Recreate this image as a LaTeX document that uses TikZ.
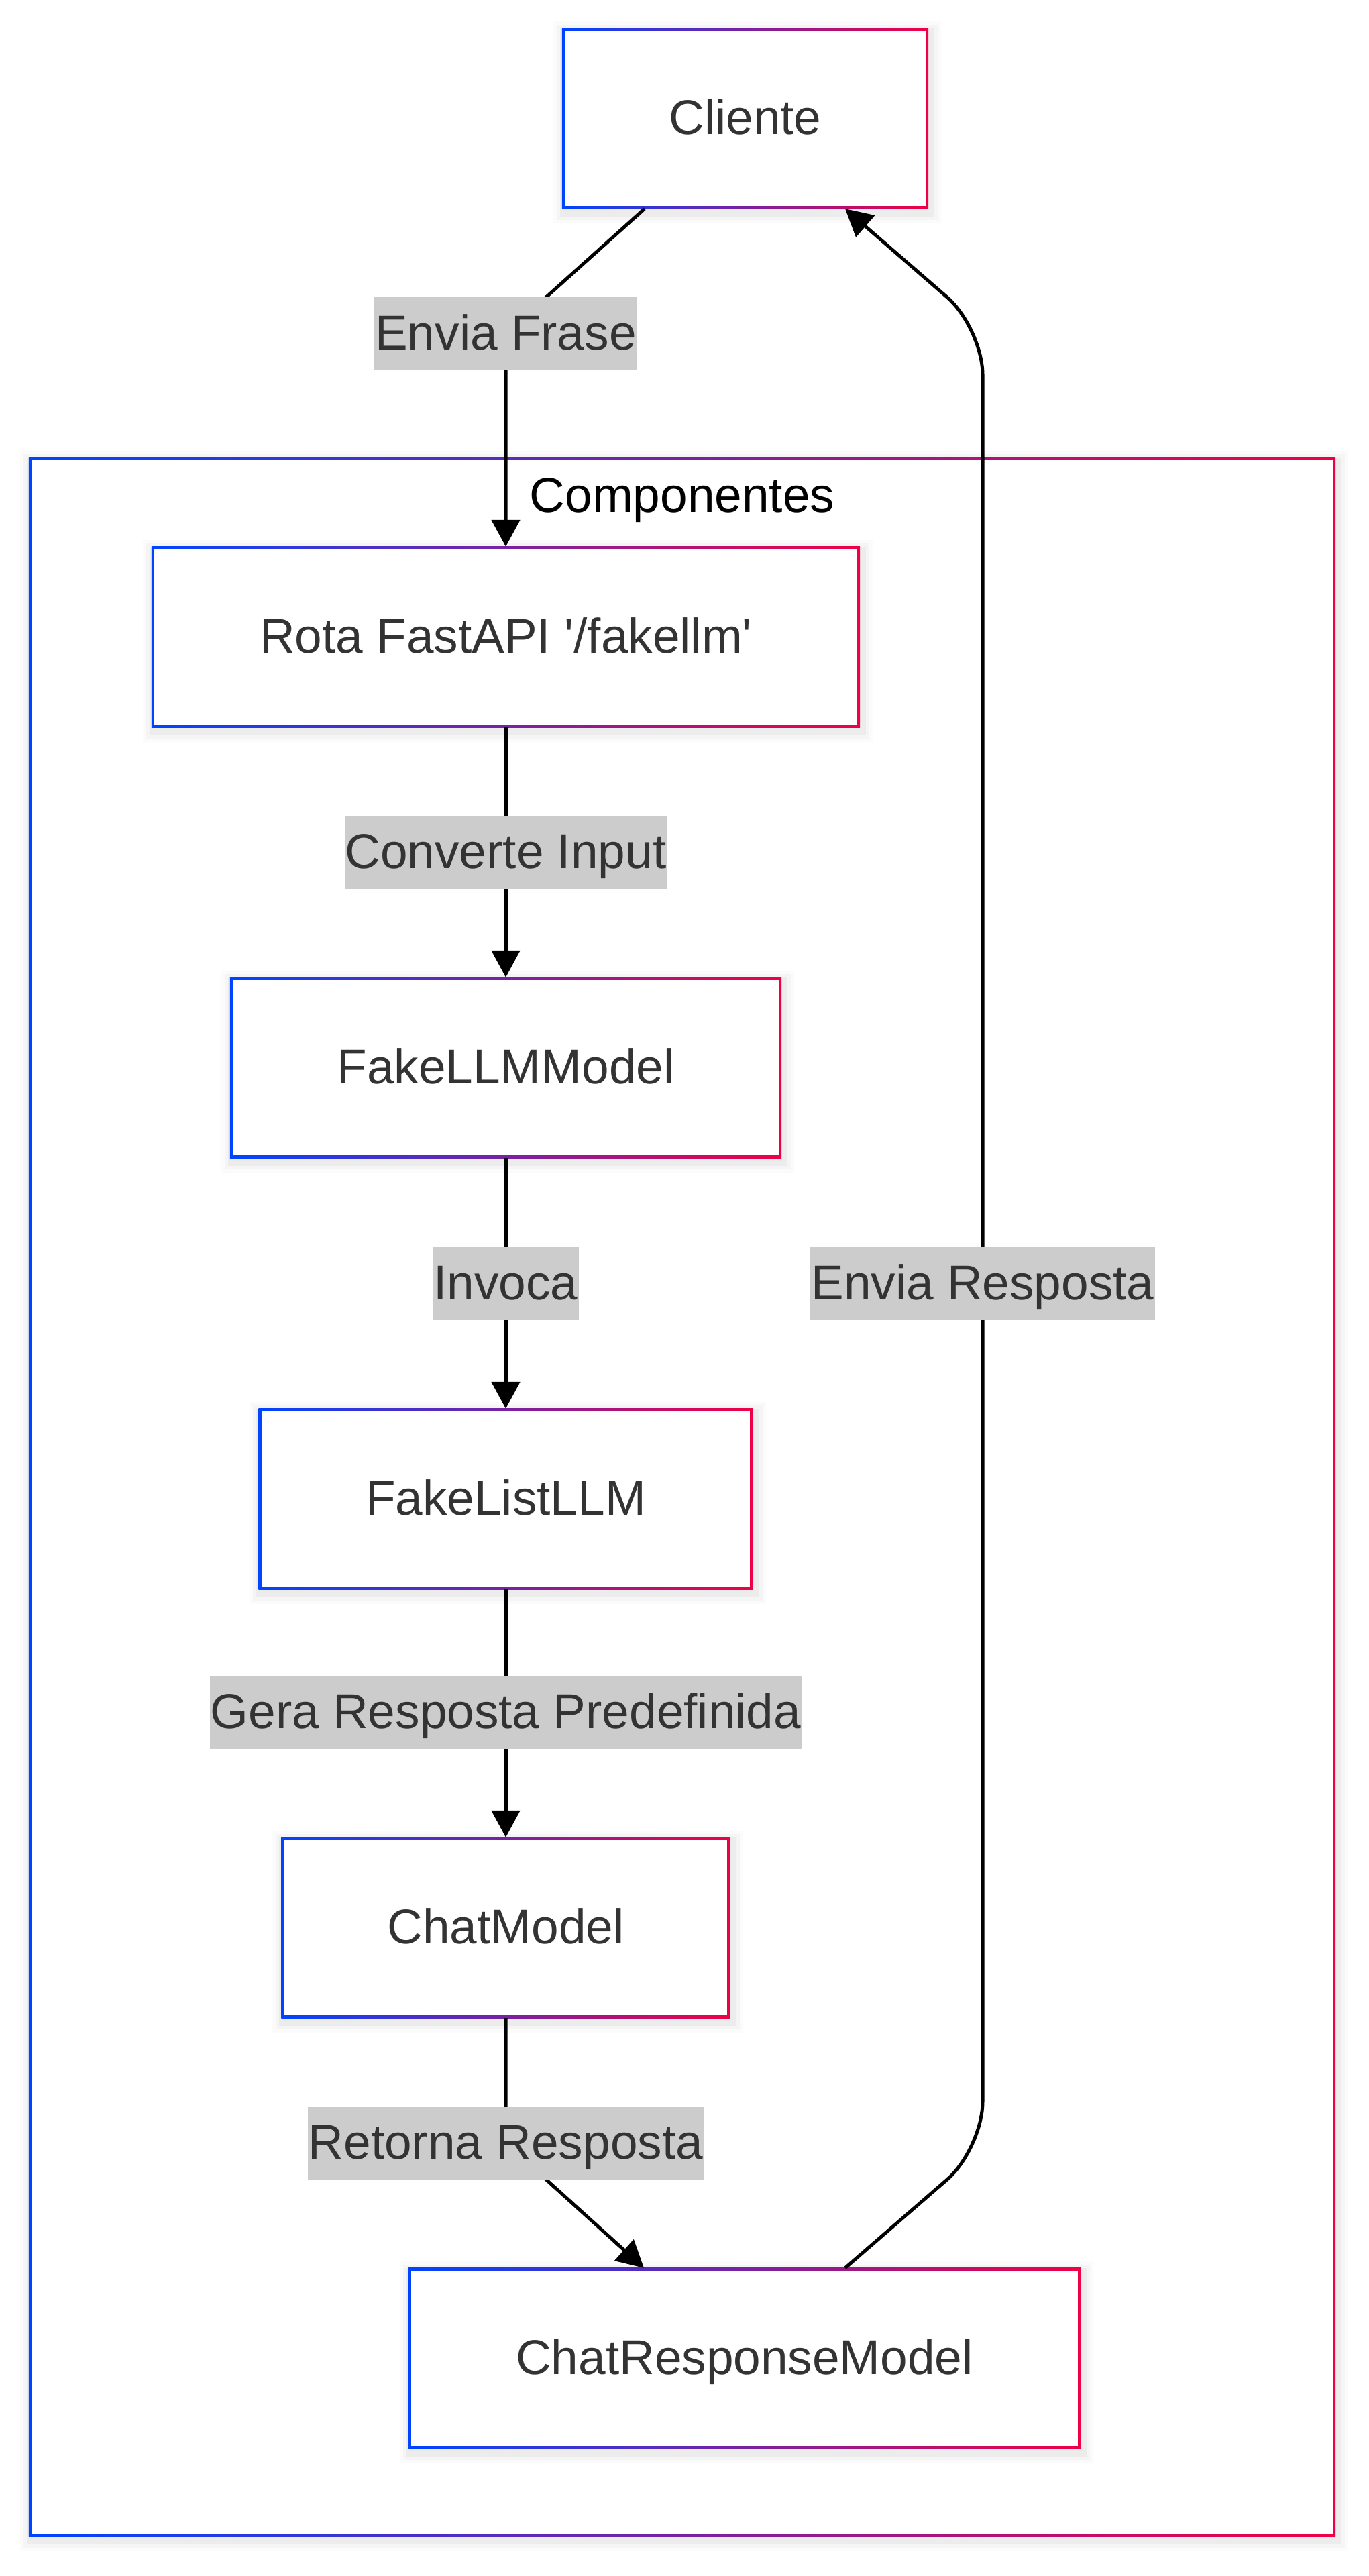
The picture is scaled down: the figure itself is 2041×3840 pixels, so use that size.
\documentclass[tikz,border=0pt]{standalone}
\usepackage{fontspec}
\setmainfont{Liberation Sans}
\usetikzlibrary{arrows.meta,calc}
\definecolor{gblue}{HTML}{0044FF}
\definecolor{gred}{HTML}{F00045}
\definecolor{txt}{HTML}{333333}
\definecolor{lblbg}{HTML}{CCCCCC}
\pgfdeclarelayer{background}
\pgfsetlayers{background,main}
\newcommand\dgfont{\fontsize{73}{88}\selectfont}
\newcommand\gradframe[1]{%
 \begin{pgfonlayer}{background}
  \foreach \s/\o in {16/0.015,11/0.025,6/0.035}{%
    \fill[black,opacity=\o] ($(#1.south west)+(-\s+3,\s+6)$) rectangle ($(#1.north east)+(\s+3,-\s+6)$);}
  \shade[left color=gblue,right color=gred] (#1.south west) rectangle (#1.north east);
  \fill[white] ($(#1.south west)+(4.5,-4.5)$) rectangle ($(#1.north east)+(-4.5,4.5)$);
 \end{pgfonlayer}}
\tikzset{
 box/.style={draw=none, text=txt, font=\dgfont, minimum height=269pt, inner sep=0pt, text height=62pt, text depth=14pt},
 lbl/.style={fill=lblbg, text=txt, font=\dgfont, minimum height=108pt, inner xsep=1pt, inner ysep=0pt, text height=62pt, text depth=14pt},
 conn/.style={line width=5pt, draw=black, -{Triangle[length=40pt,width=42pt]}},
}
\begin{document}
\begin{tikzpicture}[x=1pt,y=-1pt]
\useasboundingbox (0,0) rectangle (2041,3840);
\begin{pgfonlayer}{background}
\fill[white] (0,0) rectangle (2041,3840);
\end{pgfonlayer}
% cluster
\node[box, minimum width=1948pt, minimum height=3099pt] (comp) at (1017,2231.5) {};
\gradframe{comp}
\node[font=\dgfont, text=black, anchor=base] (comptitle) at (1017,763) {Componentes};
% nodes
\node[box, minimum width=546pt] (cliente) at (1111,176.5) {Cliente};
\node[box, minimum width=1056pt] (rota) at (754,949.5) {Rota FastAPI \textquotesingle/fakellm\textquotesingle};
\node[box, minimum width=822pt] (fllm) at (754,1591.5) {FakeLLMModel};
\node[box, minimum width=737pt] (flist) at (754,2234.5) {FakeListLLM};
\node[box, minimum width=669pt] (chat) at (754,2873.5) {ChatModel};
\node[box, minimum width=1002pt] (resp) at (1110,3515.5) {ChatResponseModel};
\gradframe{cliente}
\gradframe{rota}
\gradframe{fllm}
\gradframe{flist}
\gradframe{chat}
\gradframe{resp}
% label positions
\coordinate (l1) at (754,497);
\coordinate (l2) at (754,1270.5);
\coordinate (l3) at (754,1913);
\coordinate (l4) at (1465,1913);
\coordinate (l5) at (754,2552.5);
\coordinate (l6) at (754,3194.5);
\coordinate (r1) at (1465,3203);
\coordinate (r2) at (1465,489);
% edges
\draw[conn] ([xshift=-150pt]cliente.south) -- (l1) -- (rota.north);
\draw[conn] (rota.south) -- (fllm.north);
\draw[conn] (fllm.south) -- (flist.north);
\draw[conn] (flist.south) -- (chat.north);
\draw[conn] (chat.south) -- (l6) -- ([xshift=-150pt]resp.north);
\draw[conn, rounded corners=70pt] ([xshift=150pt]resp.north) -- (r1) -- (r2) -- ([xshift=149pt]cliente.south);
% labels
\node[lbl] (lab1) at (l1) {Envia Frase};
\node[lbl] (lab2) at (l2) {Converte Input};
\node[lbl] (lab3) at (l3) {Invoca};
\node[lbl] (lab4) at (l4) {Envia Resposta};
\node[lbl] (lab5) at (l5) {Gera Resposta Predefinida};
\node[lbl] (lab6) at (l6) {Retorna Resposta};
\end{tikzpicture}
\end{document}
